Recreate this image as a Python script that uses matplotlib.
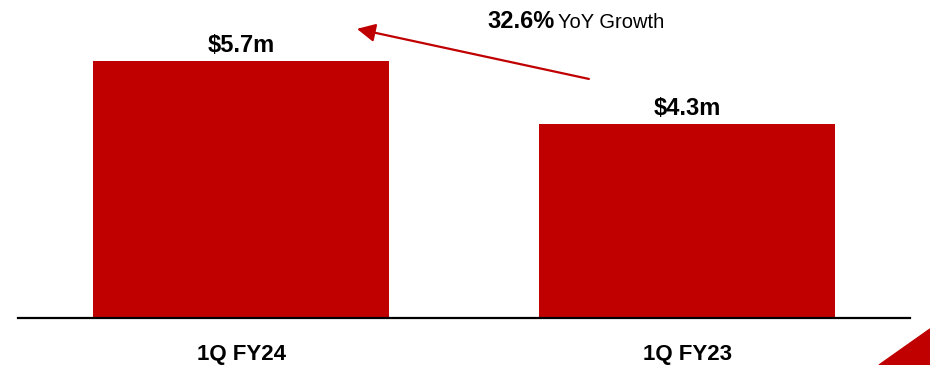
import numpy as np
import matplotlib
matplotlib.use("Agg")
import matplotlib.pyplot as plt
from matplotlib.patches import Polygon

# data
periods = ["1Q FY24", "1Q FY23"]
revenue = [5.7, 4.3]
labels = ["$5.7m", "$4.3m"]
growth = "32.6%"

red = "#C00000"
fnt = ["Liberation Sans Narrow", "Liberation Sans", "DejaVu Sans"]

fig = plt.figure(figsize=(9.3, 3.65), dpi=100)
ax = fig.add_axes([18 / 930, 47 / 365, 892 / 930, 318 / 365])

x = np.arange(len(periods))
ax.bar(x, revenue, width=0.665, color=red)
ax.set_xlim(-0.5, 1.5)
ax.set_ylim(0, 7.05)

for xi, v, lab in zip(x, revenue, labels):
    ax.text(xi, v + 0.08, lab, ha="center", va="bottom", fontsize=17,
            fontweight="bold", family=fnt)

for s in ["top", "right", "left"]:
    ax.spines[s].set_visible(False)
ax.spines["bottom"].set_linewidth(1.6)
ax.set_yticks([])
ax.set_xticks(x)
ax.set_xticklabels(periods, fontsize=16, fontweight="bold", family=fnt)
ax.tick_params(axis="x", length=0, pad=18.5)

# growth arrow from the smaller bar toward the bigger one
ax.annotate("", xy=(0.26, 6.41), xytext=(0.78, 5.3),
            arrowprops=dict(arrowstyle="-|>,head_length=1.1,head_width=0.55",
                            color=red, lw=1.6, shrinkA=0, shrinkB=0))
fig.text(487 / 930, 1 - 22 / 365, growth, ha="left", va="center",
         fontsize=17, fontweight="bold", family=fnt)
fig.text(558 / 930, 1 - 22 / 365, "YoY Growth", ha="left", va="center",
         fontsize=14.5, family=fnt)

# corner triangle
fig.patches.append(Polygon([[879 / 930, 0], [1, 36 / 365], [1, 0]],
                           closed=True, transform=fig.transFigure,
                           color=red, zorder=5))

fig.savefig("out.png", dpi=100)
